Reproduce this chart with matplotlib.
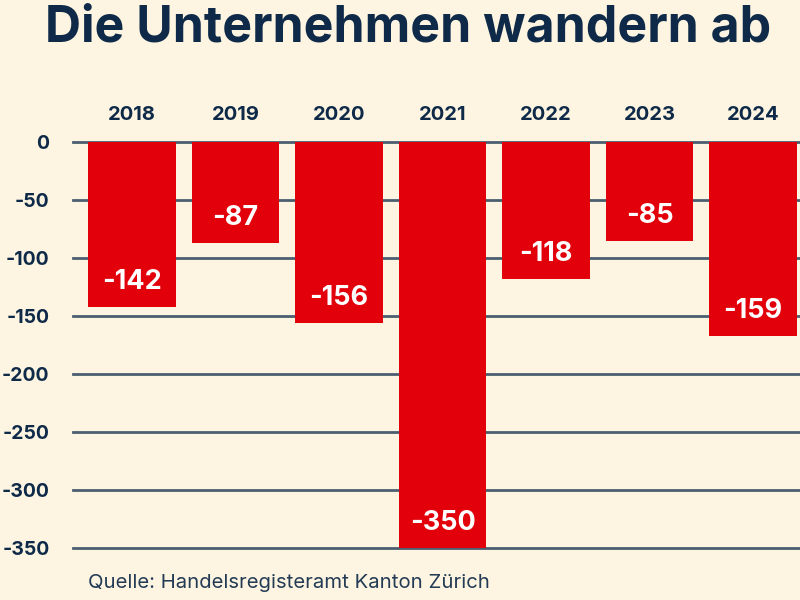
import matplotlib
matplotlib.use("Agg")
import matplotlib.pyplot as plt

years = ["2018", "2019", "2020", "2021", "2022", "2023", "2024"]
values = [-142, -87, -156, -350, -118, -85, -167]
value_labels = ["-142", "-87", "-156", "-350", "-118", "-85", "-159"]
yticks = [0, -50, -100, -150, -200, -250, -300, -350]

BG = "#fdf5e2"
RED = "#e2000b"
NAVY = "#0e2a48"
GRID = "#4a5e70"

plt.rcParams['font.family'] = ['Inter', 'DejaVu Sans']

fig = plt.figure(figsize=(8, 6), dpi=100, facecolor=BG)
ax = fig.add_axes([73/800, 1 - 548/600, 727/800, 406/600])
ax.set_facecolor(BG)

x = list(range(len(years)))
bars = ax.bar(x, values, width=0.85, color=RED, zorder=3)

ax.set_ylim(-350, 0)
ax.set_xlim(-0.57, 6.454)
for t in yticks:
    ax.axhline(t, color=GRID, lw=2, zorder=1, clip_on=False)

ax.set_yticks(yticks)
ax.set_yticklabels([str(t) for t in yticks], fontsize=14, fontweight='bold', color=NAVY)
ax.tick_params(axis='y', length=0, pad=17)
ax.set_xticks([])
for s in ax.spines.values():
    s.set_visible(False)

for xi, yr in zip(x, years):
    ax.annotate(yr, (xi, 0), xytext=(0, 19.5), textcoords='offset points',
                ha='center', va='center', fontsize=14.5, fontweight='bold', color=NAVY,
                annotation_clip=False)

for b, lab, v in zip(bars, value_labels, values):
    ax.annotate(lab, (b.get_x() + b.get_width()/2, v), xytext=(0, 18),
                textcoords='offset points', ha='center', va='center',
                fontsize=19.5, fontweight='bold', color='white', zorder=4)

fig.text(0.51, 1 - 28/600, "Die Unternehmen wandern ab", ha='center', va='center',
         fontsize=36, fontweight='bold', color=NAVY)
fig.text(88/800, 1 - 583/600, "Quelle: Handelsregisteramt Kanton Zürich", ha='left',
         va='center', fontsize=14.6, color="#233b55")

fig.savefig("out.png", dpi=100, facecolor=BG)
